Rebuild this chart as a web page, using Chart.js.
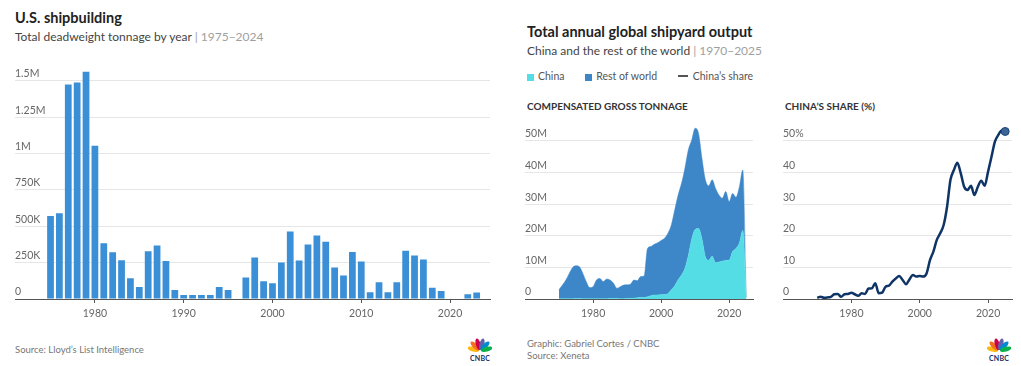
<!DOCTYPE html>
<html lang="en">
<head>
<meta charset="UTF-8">
<title>U.S. shipbuilding vs global shipyard output</title>
<script src="https://cdn.jsdelivr.net/npm/chart.js@4.4.1/dist/chart.umd.min.js"></script>
<style>
  body { margin: 0; background: #fff; font-family: Lato, "Open Sans", sans-serif; }
  #wrap { position: relative; width: 1021px; height: 366px; overflow: hidden; }
  .abs { position: absolute; white-space: nowrap; }
  .title { font-weight: 700; font-size: 14.5px; color: #222; }
  .sub { font-size: 12px; color: #444; }
  .sub span { color: #a0a0a0; }
  .legend { font-size: 10.5px; color: #555; }
  .sw { display: inline-block; width: 7px; height: 7px; margin-right: 4px; vertical-align: -0.5px; }
  .ln { display: inline-block; width: 10px; height: 2px; background: #555; margin-right: 5px; vertical-align: 3px; }
  .panel { font-weight: 700; font-size: 10px; color: #333; }
  .foot { font-size: 9.5px; color: #777; line-height: 12px; }
  .logo { width: 26px; text-align: center; }
  .logo b { display: block; font-size: 7px; color: #1a2b5c; letter-spacing: 0.2px; margin-top: -1px; }
  canvas { position: absolute; }
</style>
</head>
<body>
<div id="wrap">
  <div class="abs title" style="left:15px; top:9px;">U.S. shipbuilding</div>
  <div class="abs sub" style="left:15px; top:29px;">Total deadweight tonnage by year <span>| 1975–2024</span></div>

  <div class="abs title" style="left:527px; top:23px;">Total annual global shipyard output</div>
  <div class="abs sub" style="left:527px; top:43px;">China and the rest of the world <span>| 1970–2025</span></div>
  <div class="abs legend" style="left:527px; top:70px;">
    <span class="sw" style="background:#55dde6"></span>China
    <span class="sw" style="background:#3d86c8; margin-left:18px"></span>Rest of world
    <span class="ln" style="margin-left:18px"></span>China’s share
  </div>
  <div class="abs panel" style="left:527px; top:100px;">COMPENSATED GROSS TONNAGE</div>
  <div class="abs panel" style="left:785px; top:100px;">CHINA’S SHARE (%)</div>

  <canvas id="usChart" style="left:0; top:60px;" width="505" height="270"></canvas>
  <canvas id="tonChart" style="left:510px; top:110px;" width="255" height="220"></canvas>
  <canvas id="shareChart" style="left:770px; top:110px;" width="251" height="220"></canvas>

  <div class="abs foot" style="left:15px; top:344px;">Source: Lloyd’s List Intelligence</div>
  <div class="abs foot" style="left:527px; top:338px;">Graphic: Gabriel Cortes / CNBC<br>Source: Xeneta</div>

  <div class="abs logo" style="left:467px; top:336px;">
    <svg width="24" height="14" viewBox="0 0 24 14">
      <g transform="translate(12,13)">
        <ellipse cx="0" cy="-7" rx="2.4" ry="6" fill="#fcb711" transform="rotate(-75)"/>
        <ellipse cx="0" cy="-7" rx="2.4" ry="6" fill="#f37021" transform="rotate(-45)"/>
        <ellipse cx="0" cy="-7" rx="2.4" ry="6" fill="#cc004c" transform="rotate(-15)"/>
        <ellipse cx="0" cy="-7" rx="2.4" ry="6" fill="#6460aa" transform="rotate(15)"/>
        <ellipse cx="0" cy="-7" rx="2.4" ry="6" fill="#0089d0" transform="rotate(45)"/>
        <ellipse cx="0" cy="-7" rx="2.4" ry="6" fill="#0db14b" transform="rotate(75)"/>
      </g>
    </svg>
    <b>CNBC</b>
  </div>
  <div class="abs logo" style="left:986px; top:336px;">
    <svg width="24" height="14" viewBox="0 0 24 14">
      <g transform="translate(12,13)">
        <ellipse cx="0" cy="-7" rx="2.4" ry="6" fill="#fcb711" transform="rotate(-75)"/>
        <ellipse cx="0" cy="-7" rx="2.4" ry="6" fill="#f37021" transform="rotate(-45)"/>
        <ellipse cx="0" cy="-7" rx="2.4" ry="6" fill="#cc004c" transform="rotate(-15)"/>
        <ellipse cx="0" cy="-7" rx="2.4" ry="6" fill="#6460aa" transform="rotate(15)"/>
        <ellipse cx="0" cy="-7" rx="2.4" ry="6" fill="#0089d0" transform="rotate(45)"/>
        <ellipse cx="0" cy="-7" rx="2.4" ry="6" fill="#0db14b" transform="rotate(75)"/>
      </g>
    </svg>
    <b>CNBC</b>
  </div>
</div>

<script>
// ---- U.S. shipbuilding, deadweight tons per year ----
const usYears = [1975, 1976, 1977, 1978, 1979, 1980, 1981, 1982, 1983, 1984,
                 1985, 1986, 1987, 1988, 1989, 1990, 1991, 1992, 1993, 1994,
                 1995, 1996, 1997, 1998, 1999, 2000, 2001, 2002, 2003, 2004,
                 2005, 2006, 2007, 2008, 2009, 2010, 2011, 2012, 2013, 2014,
                 2015, 2016, 2017, 2018, 2019, 2020, 2021, 2022, 2023, 2024];
const usTonnage = [570000, 590000, 1475000, 1488000, 1563000, 1054000, 383000, 322000, 266000, 142000,
                   83000, 328000, 367000, 262000, 62000, 28000, 28000, 28000, 28000, 83000,
                   62000, 0, 147000, 285000, 122000, 108000, 251000, 464000, 264000, 375000,
                   437000, 393000, 216000, 161000, 324000, 258000, 46000, 115000, 46000, 115000,
                   331000, 299000, 271000, 78000, 55000, 0, 0, 32000, 44000, 0];
const usYTicks = [0, 250000, 500000, 750000, 1000000, 1250000, 1500000];
const usYLabels = ['0', '250K', '500K', '750K', '1M', '1.25M', '1.5M'];
const usXTicks = [1980, 1990, 2000, 2010, 2020];

// ---- Global shipyard output, million CGT ----
const globalYears = [1970, 1971, 1972, 1973, 1974, 1975, 1976, 1977, 1978, 1979,
                     1980, 1981, 1982, 1983, 1984, 1985, 1986, 1987, 1988, 1989,
                     1990, 1991, 1992, 1993, 1994, 1995, 1996, 1997, 1998, 1999,
                     2000, 2001, 2002, 2003, 2004, 2005, 2006, 2007, 2008, 2009,
                     2010, 2011, 2012, 2013, 2014, 2015, 2016, 2017, 2018, 2019,
                     2020, 2021, 2022, 2023, 2024, 2025];
const chinaCGT = [0.1, 0.1, 0.1, 0.1, 0.1, 0.15, 0.15, 0.1, 0.1, 0.1,
                  0.1, 0.1, 0.1, 0.1, 0.1, 0.2, 0.2, 0.2, 0.1, 0.1,
                  0.2, 0.2, 0.3, 0.4, 0.5, 0.45, 0.75, 1.0, 1.3, 1.3,
                  1.35, 1.4, 1.7, 2.9, 4.2, 6.1, 7.6, 9.7, 13.8, 19.0,
                  22.0, 22.3, 19.0, 13.4, 12.3, 13.5, 11.5, 11.7, 12.0, 12.2,
                  12.3, 15.0, 16.0, 17.7, 21.7, 0.3];
const restCGT = [2.9, 4.3, 5.9, 8.0, 9.9, 10.35, 10.05, 8.0, 5.4, 3.5,
                 3.8, 5.9, 6.4, 5.4, 6.2, 5.8, 4.8, 3.2, 3.8, 4.3,
                 4.3, 4.5, 5.7, 5.4, 6.6, 6.85, 15.25, 15.6, 16.0, 16.5,
                 17.15, 17.8, 19.1, 20.5, 24.0, 26.8, 29.0, 31.7, 33.4, 31.3,
                 32.0, 30.1, 25.5, 24.3, 23.5, 24.2, 23.5, 21.2, 19.9, 21.8,
                 18.5, 18.4, 16.2, 17.8, 19.1, 0.3];
const chinaShare = [0.4, 0.7, 0.4, 0.5, 0.7, 1.5, 1.6, 0.7, 1.5, 1.6,
                    2.0, 1.5, 1.0, 1.8, 1.6, 3.3, 3.4, 5.0, 1.8, 2.0,
                    3.9, 4.2, 5.5, 6.5, 7.3, 6.0, 4.7, 6.2, 7.6, 7.1,
                    7.3, 7.1, 8.1, 12.3, 15.0, 18.7, 20.8, 23.4, 29.2, 37.7,
                    40.8, 43.1, 39.8, 35.5, 34.5, 35.8, 32.9, 35.5, 37.4, 35.8,
                    40.3, 45.0, 49.8, 51.9, 53.3, 53.0];
const globalYTicks = [0, 10, 20, 30, 40, 50];
const tonYLabels = ['0', '10M', '20M', '30M', '40M', '50M'];
const shareYLabels = ['0', '10', '20', '30', '40', '50%'];
const globalXTicks = [1980, 2000, 2020];

const tickFont = { family: 'Lato', size: 10.5 };
const tickColor = '#666';
const gridColor = '#e6e6e6';

function xAxis(min, max, values) {
  return {
    type: 'linear', min: min, max: max, offset: false,
    afterBuildTicks: axis => { axis.ticks = values.map(v => ({ value: v })); },
    afterFit: axis => { axis.height = 31; },
    grid: { drawOnChartArea: false, drawTicks: true, tickLength: 4, tickColor: '#555', offset: false },
    border: { display: true, color: '#555', width: 1 },
    ticks: { font: tickFont, color: tickColor, padding: 4, maxRotation: 0, callback: v => String(v) }
  };
}

function yAxis(max, values, labels, stacked) {
  return {
    stacked: stacked, min: 0, max: max,
    afterBuildTicks: axis => { axis.ticks = values.map(v => ({ value: v })); },
    grid: { color: gridColor, lineWidth: 1, drawTicks: false },
    border: { display: false },
    ticks: {
      mirror: true, padding: 0, labelOffset: -7, font: tickFont, color: tickColor,
      callback: v => labels[values.indexOf(v)]
    }
  };
}

const baseOpts = {
  responsive: false, animation: false, events: [],
  plugins: { legend: { display: false }, tooltip: { enabled: false } }
};

new Chart(document.getElementById('usChart'), {
  type: 'bar',
  data: {
    datasets: [{
      data: usYears.map((y, i) => ({ x: y, y: usTonnage[i] })),
      backgroundColor: '#3a8fd6',
      barPercentage: 0.76, categoryPercentage: 1
    }]
  },
  options: Object.assign({}, baseOpts, {
    layout: { padding: { left: 15, right: 15, top: 5, bottom: 0 } },
    scales: {
      x: xAxis(1971, 2024.5, usXTicks),
      y: yAxis(1600000, usYTicks, usYLabels, false)
    }
  })
});

new Chart(document.getElementById('tonChart'), {
  type: 'line',
  data: {
    datasets: [
      { data: globalYears.map((y, i) => ({ x: y, y: chinaCGT[i] })), fill: 'origin',
        backgroundColor: '#55dde6', borderColor: '#55dde6', borderWidth: 0.5, pointRadius: 0,
        cubicInterpolationMode: 'monotone' },
      { data: globalYears.map((y, i) => ({ x: y, y: restCGT[i] })), fill: '-1',
        backgroundColor: '#3d86c8', borderColor: '#3d86c8', borderWidth: 0.5, pointRadius: 0,
        cubicInterpolationMode: 'monotone' }
    ]
  },
  options: Object.assign({}, baseOpts, {
    layout: { padding: { left: 15, right: 12, top: 12, bottom: 0 } },
    scales: {
      x: xAxis(1960, 2027, globalXTicks),
      y: yAxis(56, globalYTicks, tonYLabels, true)
    }
  })
});

new Chart(document.getElementById('shareChart'), {
  type: 'line',
  data: {
    datasets: [{
      data: globalYears.map((y, i) => ({ x: y, y: chinaShare[i] })),
      borderColor: '#0f3466', borderWidth: 2.5, fill: false,
      cubicInterpolationMode: 'monotone',
      pointRadius: ctx => ctx.dataIndex === chinaShare.length - 1 ? 4 : 0,
      pointBackgroundColor: '#3b6497', pointBorderColor: '#1d4476', pointBorderWidth: 1
    }]
  },
  options: Object.assign({}, baseOpts, {
    layout: { padding: { left: 13, right: 9, top: 12, bottom: 0 } },
    scales: {
      x: xAxis(1960, 2027, globalXTicks),
      y: yAxis(56, globalYTicks, shareYLabels, false)
    }
  })
});
</script>
</body>
</html>
